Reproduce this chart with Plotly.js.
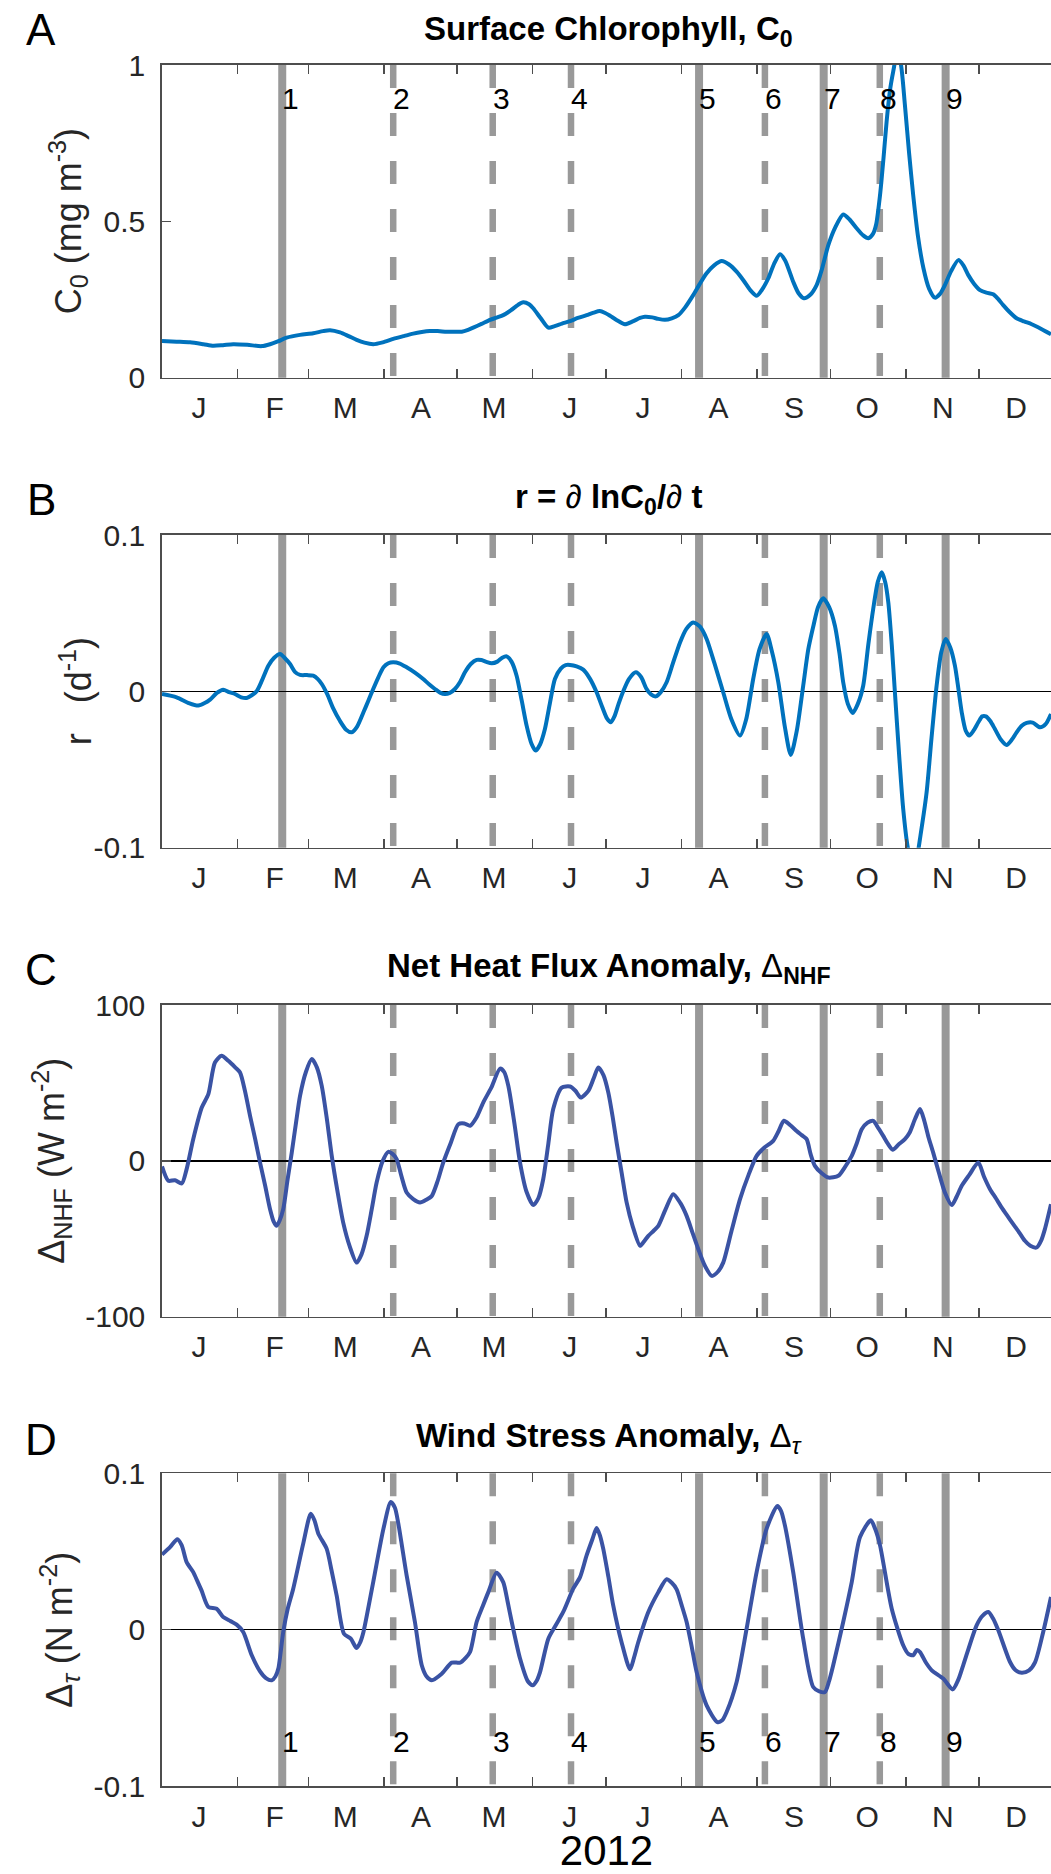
<!DOCTYPE html>
<html><head><meta charset="utf-8">
<script src="https://cdn.plot.ly/plotly-3.0.1.min.js"></script>
<style>html,body{margin:0;padding:0;background:#fff;overflow:hidden}</style>
</head><body><div id="chart" style="width:1051px;height:1874px"></div>
<script>
// ---- axis labels (day of 2012, 0 = 1 Jan) ----
const monthStarts = [0,31,60,91,121,152,182,213,244,274,305,335];
const monthLetters = ['J','F','M','A','M','J','J','A','S','O','N','D'];
const yearLabel = '2012';

// ---- events ----
const eventDay = [49.3,94.8,135.6,167.7,220.2,247.2,271.3,294.3,321.3];
const eventLabel = ['1','2','3','4','5','6','7','8','9'];
const eventSolid = [true,false,false,false,true,false,true,false,true];

// ---- A: surface chlorophyll C0 (mg m-3) ----
const chlDay = [0,6,11.5,17,21,25,29.2,35,40.9,44.3,47.5,51.1,56.6,62,66,68.9,73,76.5,79.8,83,86.6,90.5,94.8,99,103,106.5,109.8,113,116.7,120,122.9,125.5,127.6,131,134.5,137.5,139.9,143,146,148.1,150.5,152.2,155.3,158.4,161,164,167.3,170.5,174.1,177,179.5,181.7,183.7,186.5,189.8,193,196,198,201,203.5,206.2,209,211.7,214.5,217.8,220.5,223.3,226.5,229.5,232.5,235.6,238.5,241.2,243.8,246.3,248.6,251,253.4,255.5,258.8,261,263.2,265.8,268.4,270.5,273.2,276,279.3,282,284.8,287.5,289.6,291.5,292.8,294.4,295.8,297.1,298.5,299.8,301.5,303,304.6,306.3,308,310,312.2,314.5,316.9,319,321,323.5,326.5,328.5,330.6,333,335.4,338,340.8,342.8,344.9,347.5,350.4,353.5,356.6,360.5,364.5];
const chlVal = [0.117,0.115,0.113,0.107,0.102,0.104,0.107,0.105,0.101,0.107,0.116,0.128,0.137,0.142,0.149,0.152,0.145,0.133,0.121,0.112,0.107,0.113,0.124,0.133,0.141,0.146,0.149,0.149,0.147,0.147,0.147,0.153,0.160,0.172,0.185,0.193,0.200,0.215,0.233,0.241,0.235,0.222,0.190,0.160,0.165,0.173,0.181,0.191,0.200,0.208,0.213,0.207,0.198,0.184,0.171,0.180,0.191,0.195,0.193,0.188,0.185,0.190,0.200,0.225,0.264,0.300,0.334,0.360,0.373,0.362,0.339,0.310,0.280,0.262,0.285,0.318,0.365,0.395,0.375,0.307,0.270,0.254,0.265,0.296,0.345,0.424,0.480,0.522,0.505,0.478,0.455,0.446,0.460,0.490,0.584,0.70,0.819,0.92,0.979,1.04,1.0,0.872,0.72,0.584,0.45,0.350,0.285,0.256,0.268,0.296,0.34,0.376,0.36,0.328,0.300,0.280,0.272,0.267,0.252,0.232,0.210,0.190,0.180,0.171,0.156,0.139];

// ---- B: r = dlnC0/dt (d-1) ----
const rDay = [0,6,11,14.9,17.5,19.7,22.5,25.1,27.5,29.9,32.5,34.7,36.8,38.8,41,43.6,46,48.4,50.5,52.5,54.5,56.6,59.5,62,63.8,65.5,67.8,70.2,73,75.5,77.8,80,82.6,84.6,86.6,88.7,90.8,92.8,94.8,97.5,100.3,103.7,107.1,109.5,111.9,114,116,118,120.1,122.2,124.2,126.6,129,131,133,135.2,137.5,139.5,141.3,143.3,145.4,147.5,149.5,151.5,153.2,155,157,159,161.1,163.5,165.5,167.3,170,172.7,175.5,178.2,180.5,182.5,184,185.5,187.2,189.2,191.5,194.3,196.5,198.5,200.5,202.5,204.5,206.9,209.5,212.4,215,217.8,220.5,223.3,226.5,230.1,233.5,237,239.5,242.4,245,247.9,250,252.7,255.3,257.8,260.3,262.9,265,267.1,269,271.1,273.5,275.9,277.8,279.3,281.2,283.2,285.3,287.5,289.6,291.6,293.5,295.1,296.5,297.8,299.2,300.5,302.2,303.9,305.8,307.8,309.5,311,313.5,315.5,317.6,319.5,321.3,323.2,325.1,326.5,327.9,329.5,331,332.8,334.7,336.3,337.8,339.6,341.5,344,346.3,348.4,350.4,352.5,354.5,357,360,362.3,364.5];
const rVal = [-0.0017,-0.0038,-0.0075,-0.0091,-0.0075,-0.0053,-0.001,0.0011,-0.0005,-0.0017,-0.0038,-0.0042,-0.0025,0.0,0.007,0.0164,0.0215,0.0239,0.021,0.0175,0.0125,0.0105,0.0104,0.0100,0.008,0.0047,-0.002,-0.0109,-0.0190,-0.0245,-0.0262,-0.0225,-0.0134,-0.006,0.0015,0.009,0.0154,0.0180,0.0186,0.0178,0.0154,0.012,0.0079,0.0045,0.0015,-0.0008,-0.0017,-0.001,0.0015,0.006,0.0122,0.0175,0.0201,0.0200,0.0188,0.0179,0.0190,0.0215,0.0224,0.019,0.0100,-0.006,-0.0219,-0.0335,-0.0379,-0.0340,-0.0241,-0.008,0.0079,0.0145,0.0168,0.0169,0.0160,0.0139,0.008,-0.0006,-0.010,-0.0175,-0.0198,-0.016,-0.008,0.0004,0.008,0.0122,0.009,0.002,-0.002,-0.0032,-0.0005,0.0058,0.018,0.0313,0.040,0.0441,0.0415,0.0335,0.018,-0.0006,-0.018,-0.0283,-0.018,0.0079,0.027,0.0367,0.026,0.0058,-0.022,-0.0407,-0.025,0.0036,0.027,0.0420,0.054,0.0595,0.054,0.0420,0.024,0.0058,-0.008,-0.0138,-0.008,0.0036,0.030,0.0527,0.070,0.0761,0.070,0.0569,0.030,-0.0006,-0.040,-0.0752,-0.100,-0.112,-0.106,-0.092,-0.0646,-0.030,0.0036,0.025,0.0335,0.028,0.0164,0.002,-0.0134,-0.025,-0.0283,-0.025,-0.0198,-0.0160,-0.0160,-0.019,-0.0241,-0.031,-0.0343,-0.031,-0.0262,-0.022,-0.0202,-0.020,-0.0230,-0.021,-0.0145];

// ---- C: net heat flux anomaly (W m-2) ----
const nhfDay = [0,2.6,5.3,8.1,10.1,12.8,16.3,19,21.7,24.4,27.2,30,32,34,36.1,38.2,40.2,42.3,44.3,45.8,47,48.3,49.7,51.5,53.2,55,56.6,59,61.4,63.5,65.5,67.5,69.6,72,74.3,77,79.8,81.8,83.9,86,88,90.5,92.8,94.5,96.2,98.2,100.3,103,105.8,108.3,110.6,113,115.3,118.5,121.5,124,126.3,129,131.7,135,138.6,140.3,142,144.5,146.8,149.5,152.2,154.3,156.3,158.4,160.4,163.9,167.3,169.5,171.7,174.8,177,178.9,181,183,184.8,186.4,188.5,190.5,193,196,197.5,199.4,201.5,203.5,206.5,209.6,212.5,215.1,217.5,219.9,222.5,225.4,228,230.1,233.5,237,240.5,243.8,247,250.6,252.8,255,257.5,260.2,262.3,264.3,266,267.7,270.5,273.2,277.3,280,282.8,284.8,286.9,289.3,291.6,293.7,295.7,297.6,299.6,302,304.6,306.5,308.8,310.8,312.5,314.3,316.2,318.6,321,323.8,325.8,327.9,331,334.7,337,339.5,341.9,344.3,346.5,349,351.5,353.8,356,358.6,360.5,362,364.5];
const nhfVal = [-3.6,-12.8,-12.4,-14.5,-5.3,13.9,34.2,42.8,63.1,67.4,64.2,60,56.7,45,28.9,14,-1.1,-16,-31,-39,-41.7,-38,-31,-12,5.3,25,41.7,57,65.3,60,48.1,28,3.2,-20,-39.6,-55,-65.3,-60,-48.1,-31,-13.9,0,5.8,4.5,1.1,-10,-20.3,-24.5,-26.7,-25,-22.5,-13,-1.1,12,23.5,24,22.5,28,37.4,47,59.2,57,48.1,24,-1.1,-20,-28.4,-24,-11.8,11,33.2,47,47.7,45,40.6,44.9,53,59.9,55,43.8,28,11.7,-8,-26.7,-42,-54.5,-52,-48.1,-45,-41.7,-31,-21.4,-27,-35.3,-46,-56.7,-67,-73.8,-71,-65.3,-45,-24.6,-9,3.2,8.5,12.8,19,25.7,23,19.2,16.5,13.9,4,-3.2,-8,-10.7,-9.6,-4,3.2,11,20.3,24.5,25.7,21,16,11,7.1,10.5,13.9,18,27,33.2,26,15,5.3,-8,-20.3,-28.4,-23,-16,-9,-1.1,-10,-18.2,-24,-30,-35,-40.6,-46,-51.3,-54.5,-55.6,-51,-43.8,-27.8];

// ---- D: wind stress anomaly (N m-2) ----
const tauDay = [0,3.3,6.3,8.1,10.1,12.8,14.5,16.2,19,22.4,25.1,28,30.6,33.3,36.8,40.2,42.6,45,46.5,47.7,49.7,51.5,53.8,57.9,61,62.5,64.1,67.5,69.5,71.6,74.6,77.4,79.8,81.3,82.6,86.6,90.8,93.8,95.5,96.9,100.3,103.7,106.5,108.5,110.6,114.7,118.8,122.2,124.5,126.3,129,131.5,133.8,137.2,139.9,141.7,143.4,146.8,150,152,153.5,155,158.4,161.5,164.5,168.6,171.4,174.1,176.5,178.2,179.6,180.9,183,185,188.4,191.9,193.5,195.3,199.4,203.5,206.9,209,211,213,215.1,217.2,219.2,223.3,227.7,229.7,231.5,235.6,239.7,243.8,247.9,252.3,253.8,255.4,258.8,262.9,267,269.5,271.8,273.5,275.2,279.3,282.8,286.2,290.6,292.5,294.4,299.2,303.9,306,308,309.5,310.8,313.2,315.6,320.3,324.2,326.5,328.5,334,336.5,338.8,340.8,342.9,347.7,350,352.5,355.5,358,361.3,364.5];
const tauVal = [0.048,0.0528,0.0578,0.0539,0.0432,0.0368,0.031,0.0251,0.0145,0.0134,0.0081,0.0055,0.0032,-0.0015,-0.0164,-0.0267,-0.031,-0.0324,-0.030,-0.0249,-0.0015,0.013,0.0262,0.0550,0.0742,0.070,0.0614,0.0518,0.038,0.0219,-0.0026,-0.0058,-0.0118,-0.008,-0.0015,0.0304,0.0646,0.0816,0.078,0.0678,0.0347,0.0049,-0.0228,-0.030,-0.0324,-0.0282,-0.0211,-0.0211,-0.018,-0.0143,0.0049,0.015,0.0240,0.0364,0.0304,0.018,0.0049,-0.0185,-0.033,-0.0356,-0.033,-0.0271,-0.0058,0.003,0.0113,0.0262,0.0336,0.0475,0.058,0.0650,0.060,0.0518,0.034,0.0155,-0.0079,-0.0254,-0.018,-0.0079,0.0113,0.0240,0.0322,0.030,0.0258,0.016,0.0049,-0.011,-0.0271,-0.0484,-0.0591,-0.058,-0.0527,-0.0335,0.0006,0.0368,0.0646,0.0791,0.076,0.0667,0.0368,-0.0058,-0.0367,-0.0395,-0.0399,-0.033,-0.0228,0.0049,0.0304,0.0592,0.0699,0.064,0.0539,0.0134,-0.0100,-0.0155,-0.0164,-0.013,-0.0143,-0.021,-0.0260,-0.0313,-0.0382,-0.032,-0.0228,0.0028,0.009,0.0113,0.007,-0.0004,-0.0207,-0.026,-0.0275,-0.026,-0.0207,-0.0015,0.0209];

// ---- y ticks ----
const yTickA = [0,0.5,1], yTextA = ['0','0.5','1'];
const yTickB = [-0.1,0,0.1], yTextB = ['-0.1','0','0.1'];
const yTickC = [-100,0,100], yTextC = ['-100','0','100'];
const yTickD = [-0.1,0,0.1], yTextD = ['-0.1','0','0.1'];

// ---- texts ----
const panelLetters = ['A','B','C','D'];
const panelTitles = [
  '<b>Surface Chlorophyll, C<sub>0</sub></b>',
  '<b>r = </b>∂<b> lnC<sub>0</sub>/</b>∂<b> t</b>',
  '<b>Net Heat Flux Anomaly, </b>Δ<b><sub>NHF</sub></b>',
  '<b>Wind Stress Anomaly, </b>Δ<sub><i>τ</i></sub>'
];
const yLabels = [
  'C<sub>0</sub> (mg m<sup>-3</sup>)',
  'r\u00a0\u00a0\u00a0(d<sup>-1</sup>)',
  'Δ<sub>NHF</sub> (W m<sup>-2</sup>)',
  'Δ<sub><i>τ</i></sub> (N m<sup>-2</sup>)'
];

// ---------------- layout geometry (pixels) ----------------
const W = 1051, H = 1874, L = 162;
const PW = W - L;
const panelTop = [65, 535, 1005, 1473.3];
const panelBot = [377.7, 847.7, 1316.7, 1786];
const py = p => 1 - p / H;            // pixel row -> paper y
const px = p => (p - L) / PW;         // pixel col -> paper x
const FONT = 'Liberation Sans, Arial, Helvetica, sans-serif';
const AX = '#4d4d4d', TXT = '#262626';
const BLUE1 = '#0072BD', BLUE2 = '#3A53A4';

const series = [
  {x: chlDay, y: chlVal, c: BLUE1},
  {x: rDay, y: rVal, c: BLUE1},
  {x: nhfDay, y: nhfVal, c: BLUE2},
  {x: tauDay, y: tauVal, c: BLUE2}
];
const yCfg = [
  {r:[0,1], tv:yTickA, tt:yTextA, z:false},
  {r:[-0.1,0.1], tv:yTickB, tt:yTextB, z:true},
  {r:[-100,100], tv:yTickC, tt:yTextC, z:true},
  {r:[-0.1,0.1], tv:yTickD, tt:yTextD, z:true}
];

const data = [];
const layout = {
  width: W, height: H,
  margin: {l: L, r: 0, t: 0, b: 0, pad: 0},
  paper_bgcolor: '#fff', plot_bgcolor: '#fff',
  showlegend: false,
  font: {family: FONT, color: TXT},
  shapes: [], annotations: []
};

const ylabX = [68, 76, 52, 60];
const titleY = [31, 499, 968, 1438];
const letterY = [30, 500, 969, 1439];

for (let i = 0; i < 4; i++) {
  const s = i === 0 ? '' : String(i + 1);
  data.push({
    type: 'scatter', mode: 'lines', x: series[i].x, y: series[i].y,
    xaxis: 'x' + s, yaxis: 'y' + s,
    line: {color: series[i].c, width: 4, shape: 'spline', smoothing: 0.7},
    hoverinfo: 'skip'
  });
  const xa = {
    domain: [0, 1], anchor: 'y' + s, range: [0, 364.5],
    tickmode: 'array', tickvals: monthStarts, ticktext: monthLetters,
    ticks: 'inside', ticklen: 9, tickwidth: 1.5, tickcolor: AX,
    showline: true, linecolor: AX, linewidth: 1.7, mirror: 'ticks',
    showgrid: false, zeroline: false,
    tickfont: {family: FONT, size: 30, color: TXT},
    ticklabelstandoff: 3, ticklabelshift: 37,
    fixedrange: true
  };
  if (i === 3) {
    xa.title = {text: yearLabel, font: {family: FONT, size: 42, color: '#000'}, standoff: 8};
  }
  const c = yCfg[i];
  const ya = {
    domain: [py(panelBot[i]), py(panelTop[i])], anchor: 'x' + s, range: c.r,
    tickmode: 'array', tickvals: c.tv, ticktext: c.tt,
    ticks: 'inside', ticklen: 9, tickwidth: 1.5, tickcolor: AX,
    showline: true, linecolor: AX, linewidth: 1.7,
    showgrid: false, zeroline: c.z, zerolinecolor: '#000', zerolinewidth: 1.6,
    tickfont: {family: FONT, size: 30, color: TXT},
    ticklabelstandoff: 9, fixedrange: true
  };
  layout['xaxis' + s] = xa;
  layout['yaxis' + s] = ya;

  // event lines
  eventDay.forEach((d, k) => {
    layout.shapes.push({
      type: 'line', xref: 'x' + s, yref: 'y' + s + ' domain',
      x0: d, x1: d, y0: 1, y1: 0, layer: 'below',
      line: {color: '#999999', width: eventSolid[k] ? 8 : 6.5,
             dash: eventSolid[k] ? 'solid' : '23px,25px'}
    });
  });

  const mid = (panelTop[i] + panelBot[i]) / 2;
  // panel letter
  layout.annotations.push({
    text: panelLetters[i], xref: 'paper', yref: 'paper',
    x: px(41), y: py(letterY[i]), xanchor: 'center', yanchor: 'middle',
    showarrow: false, font: {family: FONT, size: 44, color: '#000'}
  });
  // title
  layout.annotations.push({
    text: panelTitles[i], xref: 'paper', yref: 'paper',
    x: px(608.5), y: py(titleY[i]), xanchor: 'center', yanchor: 'middle',
    showarrow: false, font: {family: FONT, size: 33, color: '#000'}
  });
  // y label
  layout.annotations.push({
    text: yLabels[i], xref: 'paper', yref: 'paper', textangle: -90,
    x: px(ylabX[i]), y: py(mid), xanchor: 'center', yanchor: 'middle',
    showarrow: false, font: {family: FONT, size: 36, color: TXT}
  });
}

// event numbers in panels A and D
const numY = [98.3, 1741.7];
[['x', numY[0]], ['x4', numY[1]]].forEach(([xr, yy]) => {
  eventDay.forEach((d, k) => {
    layout.annotations.push({
      text: eventLabel[k], xref: xr, yref: 'paper', x: d, y: py(yy),
      xanchor: 'left', yanchor: 'middle', xshift: -2, showarrow: false,
      font: {family: FONT, size: 30, color: '#000'}
    });
  });
});

Plotly.newPlot('chart', data, layout, {staticPlot: true, displayModeBar: false});
</script>
</body></html>
